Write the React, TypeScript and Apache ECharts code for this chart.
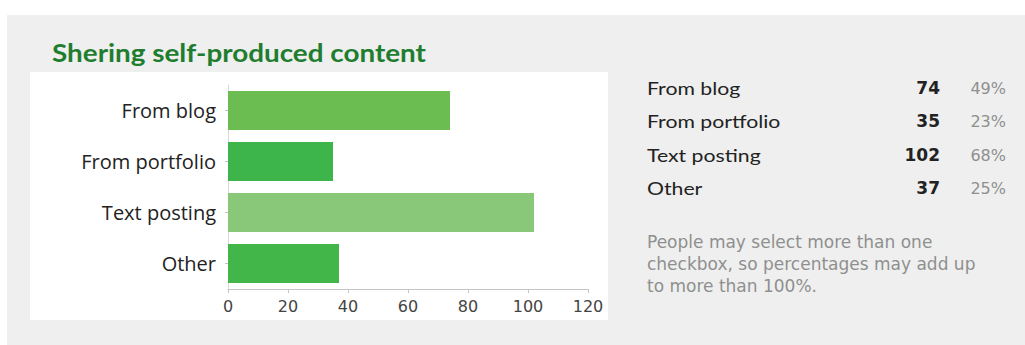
import React, { useEffect, useRef } from "react";
import * as echarts from "echarts";

const categories = ["From blog", "From portfolio", "Text posting", "Other"];
const counts = [74, 35, 102, 37];
const percents = ["49%", "23%", "68%", "25%"];
const barColors = ["#6bbd52", "#3db54a", "#88c878", "#42b649"];
const xTicks = [0, 20, 40, 60, 80, 100, 120];
const titleText = "Shering self-produced content";
const noteLines = [
  "People may select more than one",
  "checkbox, so percentages may add up",
  "to more than 100%.",
];

export default function App() {
  const ref = useRef<HTMLDivElement>(null);
  useEffect(() => {
    if (!ref.current) return;
    const chart = echarts.init(ref.current, undefined, { renderer: "svg" });
    const rowY = [88, 121, 155, 188];
    const tableTexts: any[] = [];
    categories.forEach((c, i) => {
      tableTexts.push({
        type: "text",
        x: 647,
        y: rowY[i],
        scaleX: 1.18,
        style: { text: c, font: "18px Lato", fill: "#222", verticalAlign: "middle" },
      });
      tableTexts.push({
        type: "text",
        x: 940,
        y: rowY[i],
        style: {
          text: String(counts[i]),
          font: "bold 17px 'DejaVu Sans'",
          fill: "#222",
          align: "right",
          verticalAlign: "middle",
        },
      });
      tableTexts.push({
        type: "text",
        x: 1006,
        y: rowY[i],
        style: {
          text: percents[i],
          font: "16px 'DejaVu Sans'",
          fill: "#8f8f8f",
          align: "right",
          verticalAlign: "middle",
        },
      });
    });
    noteLines.forEach((l, i) => {
      tableTexts.push({
        type: "text",
        x: 647,
        y: 242 + i * 22,
        style: {
          text: l,
          font: "17px 'DejaVu Sans'",
          fill: "#8f8f8f",
          verticalAlign: "middle",
        },
      });
    });

    chart.setOption({
      animation: false,
      backgroundColor: "#ffffff",
      graphic: [
        {
          type: "rect",
          z: -10,
          silent: true,
          shape: { x: 7, y: 15, width: 1018, height: 330 },
          style: { fill: "#eeefee" },
        },
        {
          type: "rect",
          z: -9,
          silent: true,
          shape: { x: 30, y: 72, width: 578, height: 248 },
          style: { fill: "#ffffff" },
        },
        {
          type: "text",
          x: 52,
          y: 53,
          scaleX: 1.16,
          style: {
            text: titleText,
            font: "bold 24px Lato",
            fill: "#1f7d2f",
            verticalAlign: "middle",
          },
        },
        ...tableTexts,
      ],
      grid: { left: 228, right: 437, top: 85, bottom: 56, containLabel: false },
      xAxis: {
        type: "value",
        min: 0,
        max: 120,
        interval: 20,
        axisLine: { show: true, lineStyle: { color: "#c4c4c4", width: 1 } },
        axisTick: { show: true, length: 4, lineStyle: { color: "#c4c4c4" } },
        splitLine: { show: false },
        axisLabel: {
          color: "#444",
          fontSize: 16,
          fontFamily: "DejaVu Sans",
          margin: 9,
          formatter: (v: number) => (xTicks.includes(v) ? String(v) : ""),
        },
      },
      yAxis: {
        type: "category",
        data: categories,
        inverse: true,
        axisLine: { show: true, lineStyle: { color: "#d8d8d8", width: 1 } },
        axisTick: { show: true, length: 3, alignWithLabel: true, lineStyle: { color: "#c4c4c4" } },
        axisLabel: {
          color: "#222",
          fontSize: 20,
          fontFamily: "Open Sans",
          margin: 12,
        },
      },
      series: [
        {
          type: "bar",
          data: counts.map((v, i) => ({ value: v, itemStyle: { color: barColors[i] } })),
          barCategoryGap: "24%",
        },
      ],
    });
    return () => chart.dispose();
  }, []);
  return (
    <div
      ref={ref}
      style={{ position: "fixed", left: 0, top: 0, width: 1025, height: 345 }}
    />
  );
}
